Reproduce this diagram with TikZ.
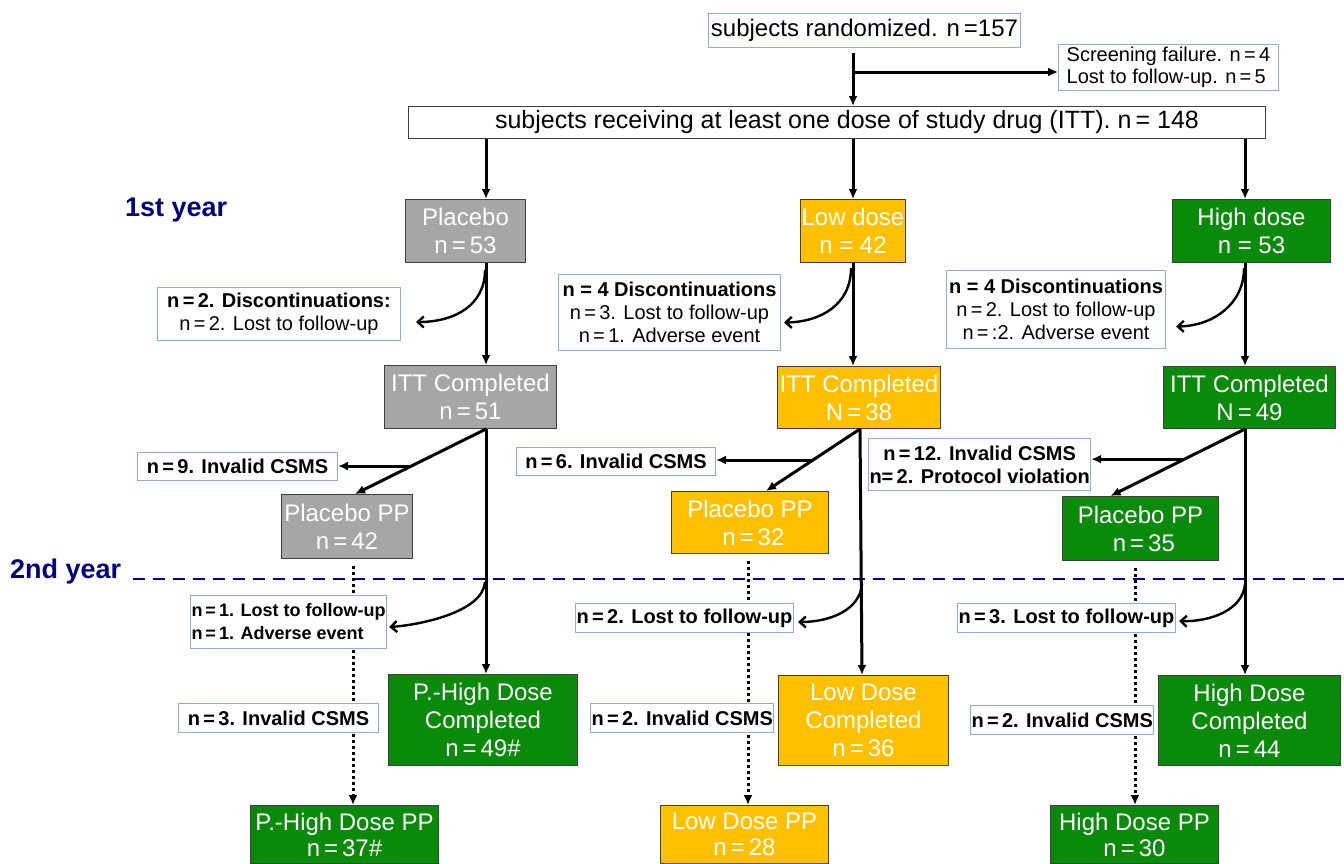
\documentclass[tikz,border=0pt]{standalone}
\usepackage{fontspec}
\setmainfont{Liberation Sans}
\usetikzlibrary{arrows.meta,calc}
\definecolor{gbox}{HTML}{A6A6A6}
\definecolor{ybox}{HTML}{FFC000}
\definecolor{hbox}{HTML}{0A8A0A}
\definecolor{lblue}{HTML}{8FAADC}
\definecolor{navyc}{HTML}{000080}
\definecolor{dborder}{HTML}{404040}
\begin{document}
\begin{tikzpicture}[x=1pt,y=-1pt,
  wbox/.style={draw=lblue,fill=white,line width=1pt,align=center,inner sep=1pt,anchor=north west,font=\fontsize{20}{23}\selectfont},
  bbox/.style={wbox,font=\fontsize{20}{23}\selectfont\bfseries},
  cbox/.style={draw=dborder,line width=1pt,text=white,align=center,inner sep=1pt,anchor=north west,font=\fontsize{24}{28}\selectfont},
  yearlbl/.style={text=navyc,font=\fontsize{27}{30}\selectfont\bfseries,anchor=west,inner sep=0pt},
  arr/.style={line width=3pt,-{Latex[length=10pt,width=9pt]}},
  carr/.style={line width=2.4pt,-{Straight Barb[length=6pt,width=11pt]}},
  darr/.style={line width=3pt,dash pattern=on 3pt off 3pt,-{Latex[length=10pt,width=9pt]}}]
\useasboundingbox (0,0) rectangle (1344,863);

% top
\node[wbox,minimum width=312pt,minimum height=34pt,font=\fontsize{24}{28}\selectfont] (rand) at (708,13) {subjects randomized. n\,=157};
\node[wbox,minimum width=220pt,minimum height=46pt,align=left,font=\fontsize{20}{22}\selectfont] (scr) at (1058,44) {Screening failure. n\,=\,4\\Lost to follow-up. n\,=\,5};
\node[wbox,draw=dborder,minimum width=857pt,minimum height=32pt,font=\fontsize{25}{28}\selectfont] (itt) at (408,106) {\hspace*{20pt}subjects receiving at least one dose of study drug (ITT). n\,= 148};

\coordinate (c1) at (486,0);
\coordinate (c2) at (853,0);
\coordinate (c2b) at (862,0);
\coordinate (c3) at (1245,0);
\coordinate (br) at (853,72);

\draw[arr,shorten <=5pt] (rand.south -| c2) -- (itt.north -| c2);
\draw[arr] (br) -- (scr.west |- br);

% years
\node[yearlbl] (y1) at (125,210) {1st year};
\node[yearlbl] (y2) at (10,572) {2nd year};
\coordinate (dl) at (133,579);
\coordinate (dr) at (1344,579);
\draw[navyc,line width=2pt,dash pattern=on 12pt off 8pt] (dl) -- (dr);

% first row
\node[cbox,fill=gbox,minimum width=120pt,minimum height=63pt] (plc) at (405,199) {Placebo\\n\,=\,53};
\node[cbox,fill=ybox,minimum width=105pt,minimum height=63pt] (low) at (800,199) {Low dose\\n = 42};
\node[cbox,fill=hbox,minimum width=158pt,minimum height=63pt] (high) at (1172,199) {High dose\\n = 53};

\draw[arr] (itt.south -| c1) -- (plc.north -| c1);
\draw[arr] (itt.south -| c2) -- (low.north -| c2);
\draw[arr] (itt.south -| c3) -- (high.north -| c3);

% discontinuations
\node[wbox,minimum width=243pt,minimum height=53pt] (d1) at (157,287) {\textbf{n\,=\,2. Discontinuations:}\\n\,=\,2. Lost to follow-up};
\node[wbox,minimum width=222pt,minimum height=76pt] (d2) at (558,274) {\textbf{n = 4 Discontinuations}\\n\,=\,3. Lost to follow-up\\n\,=\,1. Adverse event};
\node[wbox,minimum width=219pt,minimum height=78pt] (d3) at (946,270) {\textbf{n = 4 Discontinuations}\\n\,=\,2. Lost to follow-up\\n\,=\,:2. Adverse event};

% ITT completed
\node[cbox,fill=gbox,minimum width=172pt,minimum height=63pt] (ic1) at (384,365) {ITT Completed\\n\,=\,51};
\node[cbox,fill=ybox,minimum width=163pt,minimum height=62pt] (ic2) at (777,366) {ITT Completed\\N\,=\,38};
\node[cbox,fill=hbox,minimum width=172pt,minimum height=62pt] (ic3) at (1163,366) {ITT Completed\\N\,=\,49};

\draw[arr] (plc.south -| c1) -- (ic1.north -| c1);
\draw[arr] (low.south -| c2) -- (ic2.north -| c2);
\draw[arr] (high.south -| c3) -- (ic3.north -| c3);

\coordinate (s1) at (485,270);
\coordinate (s2) at (851,268);
\coordinate (s3) at (1244,268);
\draw[carr] (s1) .. controls (485,305) and (455,322) .. ([xshift=15pt,yshift=-8pt]d1.east);
\draw[carr] (s2) .. controls (851,305) and (820,322) .. ([xshift=3pt,yshift=-10pt]d2.east);
\draw[carr] (s3) .. controls (1244,305) and (1212,326) .. ([xshift=10pt,yshift=-17pt]d3.east);

% PP boxes
\node[cbox,fill=gbox,minimum width=131pt,minimum height=64pt] (pp1) at (281,494) {Placebo PP\\n\,=\,42};
\node[cbox,fill=ybox,minimum width=157pt,minimum height=62pt] (pp2) at (671,491) {Placebo PP\\ \ n\,=\,32};
\node[cbox,fill=hbox,minimum width=156pt,minimum height=64pt] (pp3) at (1062,496) {Placebo PP\\ \ n\,=\,35};

\node[bbox,minimum width=200pt,minimum height=28pt] (v1) at (137,452) {n\,=\,9. Invalid CSMS};
\node[bbox,minimum width=199pt,minimum height=28pt] (v2) at (516,447) {n\,=\,6. Invalid CSMS};
\node[bbox,minimum width=218pt,minimum height=52pt] (v3) at (868,438) {n\,=\,12. Invalid CSMS\\n=\,2. Protocol violation};

\coordinate (t1) at ([xshift=8pt]pp1.north);
\coordinate (t2) at ([xshift=16pt]pp2.north);
\coordinate (t3) at ([xshift=-30pt]pp3.north);
\coordinate (o2) at ([xshift=-2pt]ic2.south -| c2b);
\draw[arr] (ic1.south -| c1) -- (t1);
\draw[arr] (o2) -- (t2);
\draw[arr] (ic3.south -| c3) -- (t3);
\coordinate (h1) at ($(ic1.south -| c1)!0.57!(t1)$);
\coordinate (h2) at ($(o2)!0.5!(t2)$);
\coordinate (h3) at ($(ic3.south -| c3)!0.45!(t3)$);
\draw[arr] (h1) -- (v1.east |- h1);
\draw[arr] (h2) -- (v2.east |- h2);
\draw[arr] (h3) -- (v3.east |- h3);

% completed boxes
\node[cbox,fill=hbox,minimum width=189pt,minimum height=91pt] (cp1) at (388,674) {P.-High Dose\\Completed\\n\,=\,49\#};
\node[cbox,fill=ybox,minimum width=170pt,minimum height=90pt] (cp2) at (778,675) {Low Dose\\Completed\\n\,=\,36};
\node[cbox,fill=hbox,minimum width=182pt,minimum height=90pt] (cp3) at (1158,675) {High Dose\\Completed\\n\,=\,44};

\draw[arr] (ic1.south -| c1) -- (cp1.north -| c1);
\draw[arr] (o2) -- (cp2.north -| c2b);
\draw[arr] (ic3.south -| c3) -- (cp3.north -| c3);

% final PP boxes
\node[cbox,fill=hbox,minimum width=188pt,minimum height=58pt,font=\fontsize{24}{26}\selectfont] (f1) at (250,805) {P.-High Dose PP\\n\,=\,37\#};
\node[cbox,fill=ybox,minimum width=168pt,minimum height=58pt,font=\fontsize{24}{26}\selectfont] (f2) at (660,805) {Low Dose PP\\n\,=\,28};
\node[cbox,fill=hbox,minimum width=168pt,minimum height=58pt,font=\fontsize{24}{26}\selectfont] (f3) at (1050,805) {High Dose PP\\n\,=\,30};

\coordinate (x1) at (353,0);
\coordinate (x2) at (748,0);
\coordinate (x3) at (1135,0);
\draw[darr,shorten <=7pt] (pp1.south -| x1) -- (f1.north -| x1);
\draw[darr,shorten <=7pt] (pp2.south -| x2) -- (f2.north -| x2);
\draw[darr,shorten <=7pt] (pp3.south -| x3) -- (f3.north -| x3);

% second-year losses
\node[bbox,minimum width=194pt,minimum height=53pt,align=left,font=\fontsize{18}{23}\selectfont\bfseries] (l1) at (190,595) {n\,=\,1. Lost to follow-up\\n\,=\,1. Adverse event};
\node[bbox,minimum width=218pt,minimum height=29pt] (l2) at (575,603) {n\,=\,2. Lost to follow-up};
\node[bbox,minimum width=218pt,minimum height=29pt] (l3) at (957,603) {n\,=\,3. Lost to follow-up};

\coordinate (u1) at (485,582);
\coordinate (u2) at (862,584);
\coordinate (u3) at (1245,584);
\draw[carr] (u1) .. controls (483,612) and (420,625) .. ([xshift=2pt,yshift=-5pt]l1.east);
\draw[carr] (u2) .. controls (860,610) and (830,622) .. ([xshift=4pt,yshift=-4pt]l2.east);
\draw[carr] (u3) .. controls (1243,610) and (1210,622) .. ([xshift=3pt,yshift=-3pt]l3.east);

\node[bbox,minimum width=200pt,minimum height=29pt] (i1) at (178,703) {n\,=\,3. Invalid CSMS};
\node[bbox,minimum width=183pt,minimum height=29pt] (i2) at (590,703) {n\,=\,2. Invalid CSMS};
\node[bbox,minimum width=183pt,minimum height=29pt] (i3) at (970,705) {n\,=\,2. Invalid CSMS};
\end{tikzpicture}
\end{document}
